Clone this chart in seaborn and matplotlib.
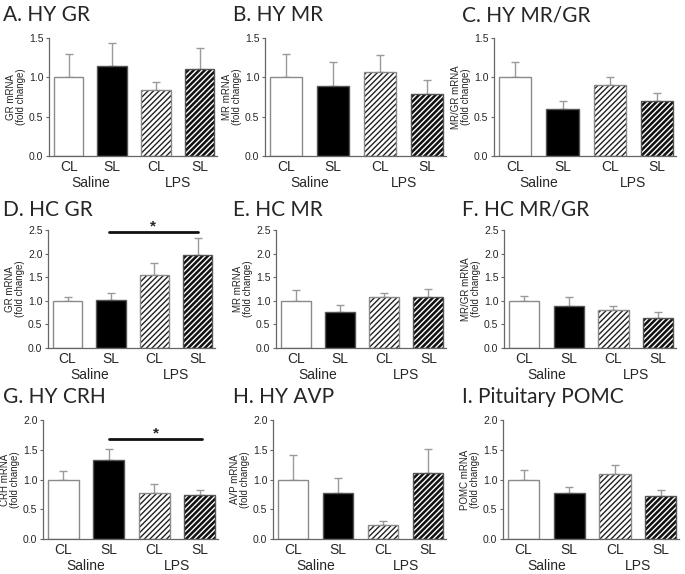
import numpy as np
import pandas as pd
import matplotlib
matplotlib.use("Agg")
import matplotlib.pyplot as plt
import seaborn as sns
from matplotlib.patches import Rectangle

sns.set_style("ticks")
plt.rcParams['font.family'] = ['Liberation Sans', 'DejaVu Sans']
plt.rcParams['hatch.linewidth'] = 1.0

# DATA
groups = ['Saline CL', 'Saline SL', 'LPS CL', 'LPS SL']
tick_labels = ['CL', 'SL', 'CL', 'SL']
treatments = ['Saline', 'LPS']

titles = ['A. HY GR', 'B. HY MR', 'C. HY MR/GR',
          'D. HC GR', 'E. HC MR', 'F. HC MR/GR',
          'G. HY CRH', 'H. HY AVP', 'I. Pituitary POMC']
ylabels = ['GR mRNA', 'MR mRNA', 'MR/GR mRNA',
           'GR mRNA', 'MR mRNA', 'MR/GR mRNA',
           'CRH mRNA', 'AVP mRNA', 'POMC mRNA']

hy_gr_mean = [1.00, 1.14, 0.84, 1.11]
hy_gr_sem = [0.30, 0.30, 0.10, 0.26]
hy_mr_mean = [1.00, 0.89, 1.07, 0.79]
hy_mr_sem = [0.30, 0.30, 0.21, 0.18]
hy_ratio_mean = [1.00, 0.60, 0.90, 0.70]
hy_ratio_sem = [0.20, 0.10, 0.10, 0.10]
hc_gr_mean = [1.00, 1.02, 1.54, 1.96]
hc_gr_sem = [0.09, 0.14, 0.27, 0.38]
hc_mr_mean = [1.00, 0.77, 1.07, 1.09]
hc_mr_sem = [0.22, 0.15, 0.09, 0.15]
hc_ratio_mean = [1.00, 0.90, 0.81, 0.64]
hc_ratio_sem = [0.11, 0.17, 0.09, 0.13]
hy_crh_mean = [0.99, 1.32, 0.77, 0.74]
hy_crh_sem = [0.15, 0.19, 0.15, 0.08]
hy_avp_mean = [1.00, 0.78, 0.23, 1.11]
hy_avp_sem = [0.42, 0.24, 0.07, 0.41]
pomc_mean = [1.00, 0.77, 1.10, 0.73]
pomc_sem = [0.16, 0.10, 0.14, 0.10]

means = [hy_gr_mean, hy_mr_mean, hy_ratio_mean,
         hc_gr_mean, hc_mr_mean, hc_ratio_mean,
         hy_crh_mean, hy_avp_mean, pomc_mean]
sems = [hy_gr_sem, hy_mr_sem, hy_ratio_sem,
        hc_gr_sem, hc_mr_sem, hc_ratio_sem,
        hy_crh_sem, hy_avp_sem, pomc_sem]

row_ymax = [1.5, 2.5, 2.0]
# significance: panel index -> (from bar, to bar, line height, star height)
signif = {3: (0.95, 3.0, 2.46, 2.58), 6: (1.0, 3.05, 1.68, 1.77)}

# layout in pixels (left, right) per panel, (top, bottom) per row
W, H = 685, 574
col_lr = [[(49, 217), (265, 446), (494, 676)],
          [(48, 215), (276, 446), (504, 676)],
          [(43, 218), (273, 446), (503, 679)]]
row_tb = [(38, 156), (230, 348), (420, 539)]
title_xy = [[(3, 15), (233, 15), (462, 15)],
            [(3, 210), (233, 210), (462, 210)],
            [(3, 397), (233, 397), (462, 397)]]

edge_gray = '#8a8a8a'
fig = plt.figure(figsize=(W / 100, H / 100), dpi=100)

for i in range(9):
    r, c = divmod(i, 3)
    l, rr = col_lr[r][c]
    t, b = row_tb[r]
    ax = fig.add_axes([l / W, 1 - b / H, (rr - l) / W, (b - t) / H])
    df = pd.DataFrame({'group': groups, 'value': means[i]})
    sns.barplot(data=df, x='group', y='value', hue='group', order=groups,
                palette=['white', 'black', 'white', 'black'], legend=False,
                width=0.68, ax=ax)

    bars = ax.patches[:4]
    for j, p in enumerate(bars):
        if j == 0:
            p.set_facecolor('white'); p.set_edgecolor(edge_gray); p.set_linewidth(1.0)
        elif j == 1:
            p.set_facecolor('black'); p.set_edgecolor('#555555'); p.set_linewidth(1.0)
        elif j == 2:
            p.set_facecolor('white'); p.set_edgecolor('#222222')
            p.set_hatch('//////'); p.set_linewidth(0)
            ax.add_patch(Rectangle(p.get_xy(), p.get_width(), p.get_height(),
                                   fill=False, ec=edge_gray, lw=1.0, zorder=p.get_zorder() + 0.1))
        else:
            p.set_facecolor('#111111'); p.set_edgecolor('white')
            p.set_hatch('//////'); p.set_linewidth(0)
            ax.add_patch(Rectangle(p.get_xy(), p.get_width(), p.get_height(),
                                   fill=False, ec='#555555', lw=1.0, zorder=p.get_zorder() + 0.1))

    centers = [p.get_x() + p.get_width() / 2 for p in bars]
    ax.errorbar(centers, means[i], yerr=[np.zeros(4), sems[i]], fmt='none',
                ecolor='#9a9a9a', elinewidth=1.0, capsize=3, capthick=1.0, zorder=0.5)

    ymax = row_ymax[r]
    ax.set_ylim(0, ymax)
    ax.set_yticks(np.arange(0, ymax + 0.01, 0.5))
    ax.set_yticklabels([f'{v:.1f}' for v in np.arange(0, ymax + 0.01, 0.5)])
    ax.set_xlim(-0.45, 3.4)
    ax.set_xticks(range(4))
    ax.set_xticklabels(tick_labels, fontsize=10)
    ax.tick_params(axis='x', length=0, pad=3)
    ax.tick_params(axis='y', labelsize=7.5, length=2.5, width=0.8, color='#666666', pad=1.5)
    ax.set_xlabel('')
    ax.set_ylabel(ylabels[i] + '\n(fold change)', fontsize=7, labelpad=2, linespacing=1.0)
    sns.despine(ax=ax)
    for s in ['left', 'bottom']:
        ax.spines[s].set_color('#666666')
        ax.spines[s].set_linewidth(0.9)

    for k, name in enumerate(treatments):
        ax.annotate(name, xy=(0.5 + 2 * k, 0), xycoords=('data', 'axes fraction'),
                    xytext=(0, -19.5), textcoords='offset points',
                    ha='center', va='center', fontsize=10)

    if i in signif:
        x0, x1, yl, ys = signif[i]
        ax.plot([x0, x1], [yl, yl], color='#111111', lw=2, clip_on=False)
        ax.text((x0 + x1) / 2, ys, '*', ha='center', va='center', fontsize=11,
                fontweight='bold', clip_on=False)

    tx, ty = title_xy[r][c]
    fig.text(tx / W, 1 - ty / H, titles[i], ha='left', va='center',
             fontsize=15, family=['Lato', 'DejaVu Sans'])

fig.savefig('out.png', dpi=100)
